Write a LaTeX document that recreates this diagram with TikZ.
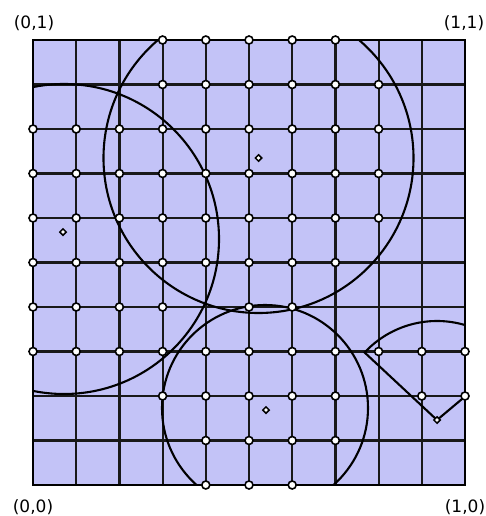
\documentclass[tikz,border=0pt]{standalone}
\usepackage{fontspec}
\setmainfont{DejaVu Sans}
\usetikzlibrary{shapes.geometric}
\definecolor{cellfill}{RGB}{195,195,247}
\begin{document}
\begin{tikzpicture}[x=1pt,y=-1pt,
  gridline/.style={line width=2.2pt,black!90},
  curve/.style={line width=2.1pt,black},
  border/.style={line width=2.6pt,black},
  vtx/.style={circle,draw=black,fill=white,line width=1.6pt,inner sep=0pt,minimum size=8pt},
  ctr/.style={diamond,draw=black,fill=white,line width=1.5pt,inner sep=0pt,minimum size=7pt},
  lbl/.style={font=\fontsize{17}{19}\selectfont,inner sep=0pt}]
\useasboundingbox (0,0) rectangle (486,516);
% background cells
\fill[cellfill] (33,40) rectangle (465,485);
% grid
\foreach \i in {1,...,9} {
  \draw[gridline] ({33+43.2*\i},40) -- ({33+43.2*\i},485);
  \draw[gridline] (33,{40+44.5*\i}) -- (465,{40+44.5*\i});
}
% curves clipped to the square
\begin{scope}
  \clip (33,40) rectangle (465,485);
  \draw[curve] (258.5,158) circle (155);
  \draw[curve] (64,239) circle (155);
  \draw[curve] (265,408) circle (103);
  \draw[curve] (437,420) -- ++(-137:99) arc[start angle=-137,end angle=-40,radius=99] -- cycle;
\end{scope}
\draw[border] (33,40) rectangle (465,485);
% vertices inside regions
\foreach \j/\l in {0/{3,4,5,6,7},1/{3,4,5,6,7,8},2/{0,1,2,3,4,5,6,7,8},3/{0,1,2,3,4,5,6,7,8},
  4/{0,1,2,3,4,5,6,7,8},5/{0,1,2,3,4,5,6,7},6/{0,1,2,3,5,6},7/{0,1,2,3,4,5,6,7,8,9,10},
  8/{3,4,5,6,7,9,10},9/{4,5,6,7},10/{4,5,6}} {
  \foreach \i in \l {
    \node[vtx] (v-\i-\j) at ({33+43.2*\i},{40+44.5*\j}) {};
  }
}
% centres
\node[ctr] (c1) at (258.5,158) {};
\node[ctr] (c2) at (63,232) {};
\node[ctr] (c3) at (266,410) {};
\node[ctr] (c4) at (437,420) {};
% corner labels
\node[lbl] (tl) at (34,23) {(0,1)};
\node[lbl] (tr) at (464,23) {(1,1)};
\node[lbl] (bl) at (33,507) {(0,0)};
\node[lbl] (br) at (465,507) {(1,0)};
\end{tikzpicture}
\end{document}
